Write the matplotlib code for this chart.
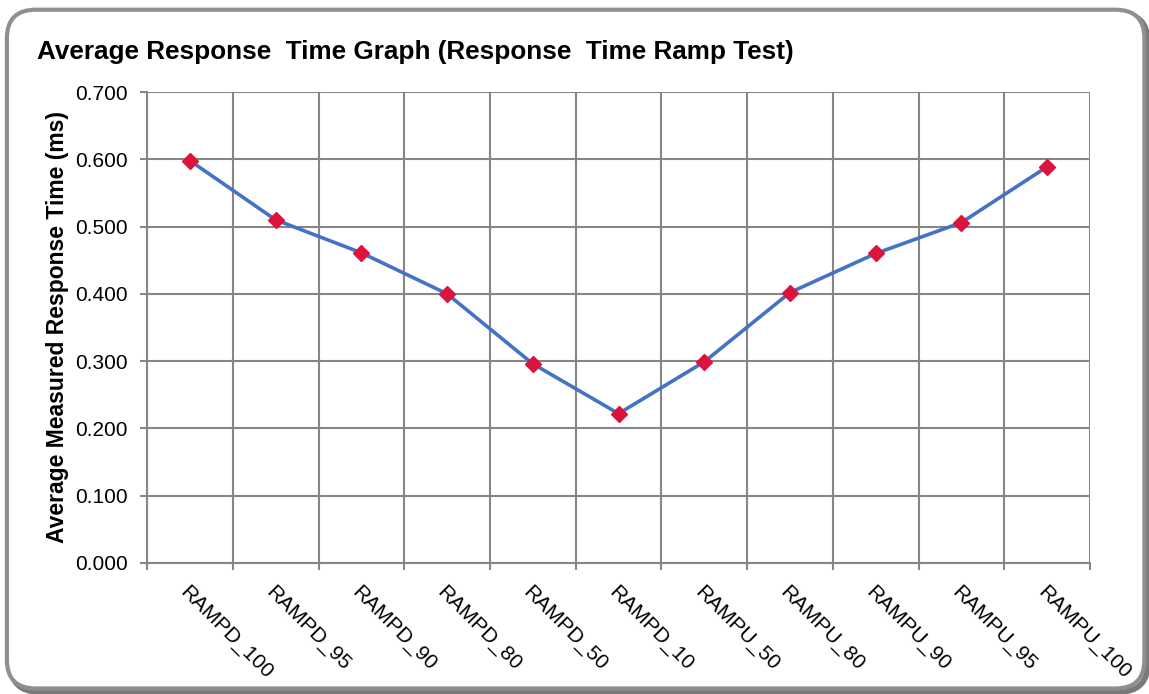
import numpy as np
import matplotlib.pyplot as plt
from matplotlib.patches import FancyBboxPatch

categories = ["RAMPD_100", "RAMPD_95", "RAMPD_90", "RAMPD_80", "RAMPD_50", "RAMPD_10",
              "RAMPU_50", "RAMPU_80", "RAMPU_90", "RAMPU_95", "RAMPU_100"]
response_ms = [0.598, 0.510, 0.461, 0.400, 0.296, 0.222, 0.299, 0.402, 0.460, 0.506, 0.589]
y_ticks = [0.0, 0.1, 0.2, 0.3, 0.4, 0.5, 0.6, 0.7]

plt.rcParams['font.family'] = ['Liberation Sans', 'DejaVu Sans']

fig = plt.figure(figsize=(11.49, 6.94), dpi=100)

# rounded frame around the chart, with a small shadow at bottom right
box = dict(boxstyle="round,pad=0,rounding_size=0.025", transform=fig.transFigure,
           mutation_aspect=1149 / 694)
shadow = FancyBboxPatch((0.009, 0.003), 0.99, 0.978, facecolor="none", edgecolor="#7a7a7a",
                        linewidth=4, zorder=-6, **box)
frame = FancyBboxPatch((0.006, 0.008), 0.99, 0.978, facecolor="white", edgecolor="#8f8f8f",
                       linewidth=3, zorder=-5, **box)
fig.patches.extend([shadow, frame])

ax = fig.add_axes([0.128, 0.1888, 0.8207, 0.6786])
ax.set_facecolor("none")

x = np.arange(len(categories))
ax.plot(x, response_ms, color="#4472c4", linewidth=2.6, zorder=3)
ax.plot(x, response_ms, linestyle="none", marker="D", markersize=8,
        color="#dc143c", zorder=4)

ax.set_xlim(-0.5, len(categories) - 0.5)
ax.set_ylim(0, 0.7)
ax.set_yticks(y_ticks)
ax.set_yticklabels([f"{v:.3f}" for v in y_ticks], fontsize=15)

# gridlines sit on the category boundaries
bounds = np.arange(-0.5, len(categories), 1.0)
ax.set_xticks(bounds)
ax.set_xticklabels([])
ax.set_xticks(x, minor=True)
ax.set_xticklabels(categories, minor=True, rotation=-45, ha="left", va="top",
                   rotation_mode="anchor", fontsize=15)
ax.tick_params(axis="x", which="minor", length=0, pad=14)
ax.tick_params(axis="x", which="major", length=5, color="#868686", width=1.5)
ax.tick_params(axis="y", length=5, color="#868686", width=1.5, pad=9)

ax.grid(True, which="major", color="#868686", linewidth=1.5)
ax.set_axisbelow(True)
for side in ["top", "right"]:
    ax.spines[side].set_visible(False)
for side in ["left", "bottom"]:
    ax.spines[side].set_color("#868686")
    ax.spines[side].set_linewidth(1.5)

ax.set_ylabel("Average Measured Response Time (ms)", fontsize=16.5, fontweight="bold", labelpad=4)
fig.text(0.032, 0.925, "Average Response  Time Graph (Response  Time Ramp Test)",
         fontsize=18.8, fontweight="bold", va="center", ha="left")

fig.savefig("out.png", dpi=100)
